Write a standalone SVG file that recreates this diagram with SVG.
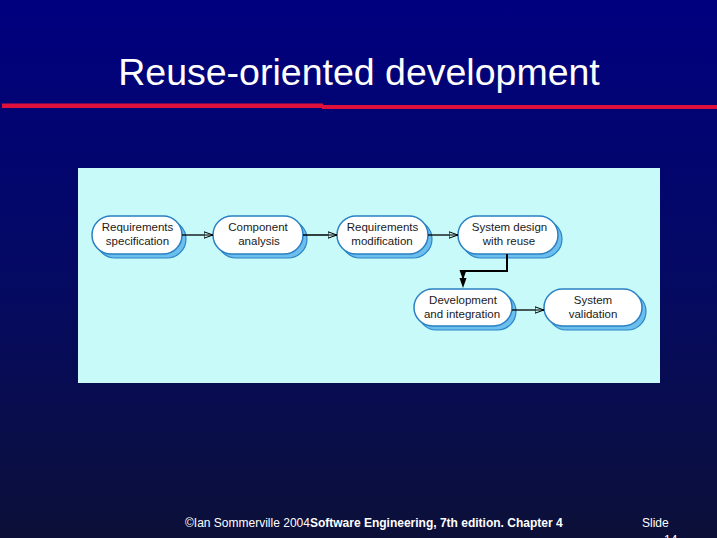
<svg xmlns="http://www.w3.org/2000/svg" width="717" height="538" viewBox="0 0 717 538">
<defs>
<linearGradient id="bg" x1="0" y1="0" x2="0" y2="1">
<stop offset="0" stop-color="#00007f"/>
<stop offset="0.55" stop-color="#050a60"/>
<stop offset="1" stop-color="#0c1038"/>
</linearGradient>
<marker id="open" viewBox="0 0 10 8" refX="9.5" refY="4" markerWidth="10" markerHeight="8" markerUnits="userSpaceOnUse" orient="auto">
<path d="M0.5,0.8 L9.5,4 L0.5,7.2 Z" fill="#c8fafa" stroke="#000" stroke-width="1"/>
<path d="M0,4 L9.5,4" stroke="#000" stroke-width="1"/>
</marker>
<marker id="solid" viewBox="0 0 8 10" refX="4" refY="10" markerWidth="8" markerHeight="10" markerUnits="userSpaceOnUse" orient="0">
<path d="M0.5,0 L7.5,0 L4,10 Z" fill="#000"/>
</marker>
</defs>
<style>
.title{font-family:"Liberation Sans",Arial,sans-serif;font-size:37.5px;fill:#fff}
.foot{font-family:"Liberation Sans",Arial,sans-serif;font-size:12px;fill:#fff}
.b{font-weight:bold}
.lbl{font-family:"Liberation Sans",Arial,sans-serif;font-size:11.5px;fill:#1a1a1a;text-anchor:middle}
.sh{fill:#6cbfec;stroke:#2a86c8;stroke-width:1.2}
.body{fill:#fff;stroke:#2a80c4;stroke-width:1.5}
.conn{stroke:#000;stroke-width:1.3;fill:none}
.conn2{stroke:#000;stroke-width:2;fill:none}
</style>
<rect x="0" y="0" width="717" height="538" fill="url(#bg)"/>
<text class="title" x="359" y="85" text-anchor="middle">Reuse-oriented development</text>
<rect x="2" y="103.5" width="321" height="4.5" fill="#e0103c"/>
<rect x="322" y="105" width="395" height="4" fill="#e0103c"/>
<rect x="78" y="168" width="582" height="215" fill="#c8fafa"/>

<g id="n1">
<rect class="sh" x="96" y="220" width="90" height="38" rx="19"/>
<rect class="body" x="92" y="216" width="90" height="38" rx="19"/>
<text class="lbl" x="137.5" y="230.5">Requirements</text>
<text class="lbl" x="137.5" y="245">specification</text>
</g>
<g id="n2">
<rect class="sh" x="217" y="220" width="90" height="38" rx="19"/>
<rect class="body" x="213" y="216" width="90" height="38" rx="19"/>
<text class="lbl" x="258" y="230.5">Component</text>
<text class="lbl" x="259" y="245">analysis</text>
</g>
<g id="n3">
<rect class="sh" x="341" y="220" width="91" height="38" rx="19"/>
<rect class="body" x="337" y="216" width="91" height="38" rx="19"/>
<text class="lbl" x="382.5" y="230.5">Requirements</text>
<text class="lbl" x="382" y="245">modification</text>
</g>
<g id="n4">
<rect class="sh" x="462" y="220" width="100" height="38" rx="19"/>
<rect class="body" x="458" y="216" width="100" height="38" rx="19"/>
<text class="lbl" x="509.5" y="230.5">System design</text>
<text class="lbl" x="509" y="245">with reuse</text>
</g>
<g id="n5">
<rect class="sh" x="418" y="293" width="98" height="37" rx="18.5"/>
<rect class="body" x="414" y="289" width="98" height="37" rx="18.5"/>
<text class="lbl" x="463" y="304">Development</text>
<text class="lbl" x="462" y="318">and integration</text>
</g>
<g id="n6">
<rect class="sh" x="548" y="293" width="98" height="37" rx="18.5"/>
<rect class="body" x="544" y="289" width="98" height="37" rx="18.5"/>
<text class="lbl" x="593" y="304">System</text>
<text class="lbl" x="593" y="318">validation</text>
</g>

<g id="connectors">
<line class="conn" x1="182" y1="235" x2="213" y2="235" marker-end="url(#open)"/>
<line class="conn" x1="303" y1="235" x2="337" y2="235" marker-end="url(#open)"/>
<line class="conn" x1="428" y1="235" x2="458" y2="235" marker-end="url(#open)"/>
<path class="conn2" d="M507,254 L507,271 L463,271 L463,280" marker-end="url(#solid)"/>
<path d="M459.5,278 L466.5,278 L463,288 Z" fill="#000"/>
<line class="conn" x1="512" y1="310" x2="544" y2="310" marker-end="url(#open)"/>
</g>

<text class="foot" x="185" y="527">©Ian Sommerville 2004<tspan class="b">Software Engineering, 7th edition. Chapter 4</tspan></text>
<text class="foot" x="642" y="527">Slide</text>
<text class="foot" x="664" y="544">14</text>
</svg>
